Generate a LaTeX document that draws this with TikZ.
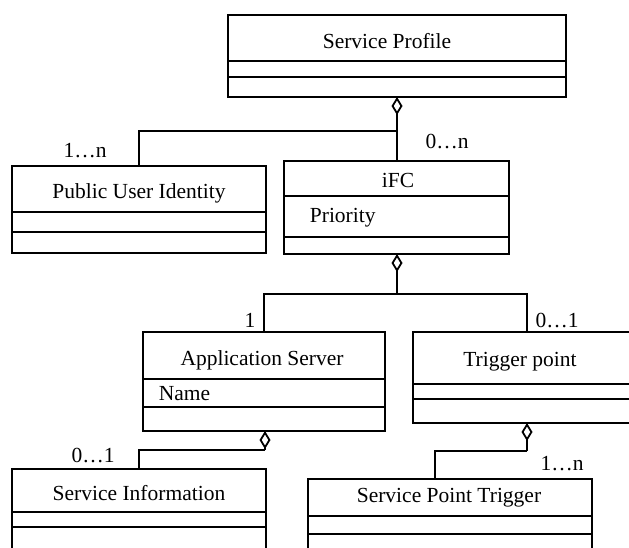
\documentclass[tikz,border=0pt]{standalone}
\usepackage{fontspec}
\setmainfont{Liberation Serif}
\usetikzlibrary{arrows.meta}
\newcommand\divline[2]{\draw (#1.west |- 0,#2) -- (#1.east |- 0,#2);}
\begin{document}
\begin{tikzpicture}[x=1pt,y=-1pt,
  line width=1.8pt,
  umlbox/.style={draw, line width=1.8pt, inner sep=0pt, outer sep=0pt, anchor=north west, rectangle},
  lbl/.style={font=\fontsize{21.5}{26}\selectfont, inner sep=0pt, anchor=base},
  attr/.style={lbl, anchor=base west},
  conn/.style={line width=1.8pt},
  agg/.style={conn, {Diamond[open, length=18pt, width=11pt, line width=1.8pt]}-},
]
\useasboundingbox (0,0) rectangle (629,547);
\clip (0,0) rectangle (629,547);

% Service Profile
\node[umlbox, minimum width=338pt, minimum height=82pt] (sp) at (228,15) {};
\divline{sp}{61}
\divline{sp}{77}
\node[lbl] (sp-t) at (387,48) {Service Profile};

% Public User Identity
\node[umlbox, minimum width=254pt, minimum height=87pt] (pui) at (12,166) {};
\divline{pui}{212}
\divline{pui}{232}
\node[lbl] (pui-t) at (139,198) {Public User Identity};

% iFC
\node[umlbox, minimum width=225pt, minimum height=93pt] (ifc) at (284,161) {};
\divline{ifc}{196}
\divline{ifc}{237}
\node[lbl] (ifc-t) at (398,187) {iFC};
\node[attr] (ifc-a) at (309,222) {Priority};

% Application Server
\node[umlbox, minimum width=242pt, minimum height=99pt] (as) at (143,332) {};
\divline{as}{379}
\divline{as}{407}
\node[lbl] (as-t) at (262,365) {Application Server};
\node[attr] (as-a) at (158,400) {Name};

% Trigger point
\node[umlbox, minimum width=228pt, minimum height=91pt] (tp) at (413,332) {};
\divline{tp}{384}
\divline{tp}{399}
\node[lbl] (tp-t) at (520,366) {Trigger point};

% Service Information
\node[umlbox, minimum width=254pt, minimum height=100pt] (si) at (12,469) {};
\divline{si}{512}
\divline{si}{527}
\node[lbl] (si-t) at (139,500) {Service Information};

% Service Point Trigger
\node[umlbox, minimum width=284pt, minimum height=100pt] (spt) at (308,479) {};
\divline{spt}{516}
\divline{spt}{534}
\node[lbl] (spt-t) at (449,502) {Service Point Trigger};

% connectors
\coordinate (j1) at (397,131);
\draw[agg] (sp.south) -- (sp.south |- ifc.north);
\draw[conn] (j1) -| (pui.north);

\coordinate (j2) at (397,294);
\draw[agg] (ifc.south -| j2) -- (j2);
\draw[conn] (as.north) |- (j2) -| (tp.north);

\coordinate (j3) at (527,451);
\coordinate (spt-in) at (435,479);
\draw[agg] (tp.south) -- (j3);
\draw[conn] (j3) -| (spt-in);

\coordinate (j4) at (265,450);
\draw[agg] (as.south -| j4) -- (j4);
\draw[conn] (j4) -| (si.north);

% multiplicities
\node[lbl] (m1) at (85,157) {1…n};
\node[lbl] (m2) at (447,148) {0…n};
\node[lbl] (m3) at (250,327) {1};
\node[lbl] (m4) at (557,327) {0…1};
\node[lbl] (m5) at (93,462) {0…1};
\node[lbl] (m6) at (562,470) {1…n};
\end{tikzpicture}
\end{document}
